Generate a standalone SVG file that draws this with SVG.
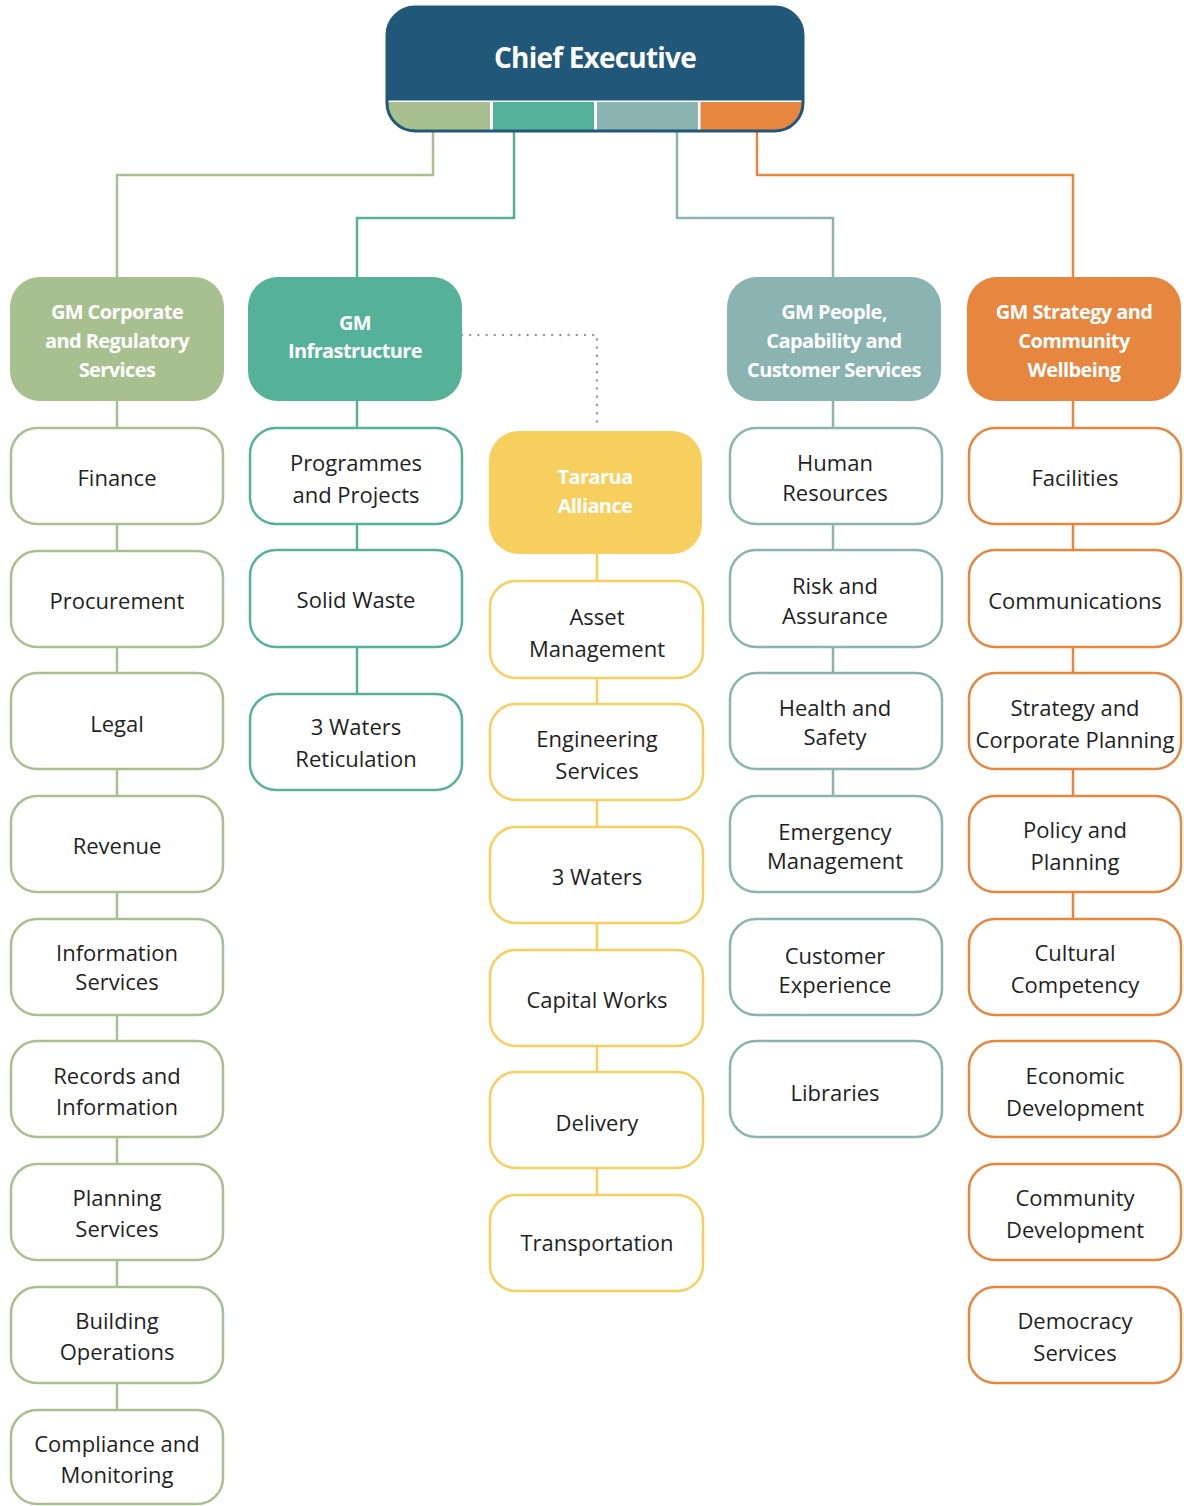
<svg xmlns="http://www.w3.org/2000/svg" width="1184" height="1506" viewBox="0 0 1184 1506">
<defs>
<clipPath id="ceClip"><rect x="387" y="7" width="416" height="124" rx="28"/></clipPath>
<style>
.lbl{font-family:"Open Sans","Liberation Sans",sans-serif;font-size:22px;fill:#1f1f1f;text-anchor:middle;dominant-baseline:central}
.hdr{font-family:"Open Sans","Liberation Sans",sans-serif;font-size:20px;font-weight:bold;fill:#ffffff;text-anchor:middle;dominant-baseline:central;letter-spacing:-0.6px}
.ce{font-family:"Open Sans","Liberation Sans",sans-serif;font-size:28px;font-weight:bold;fill:#ffffff;text-anchor:middle;dominant-baseline:central;letter-spacing:-0.8px}
.box{fill:#ffffff;stroke-width:2.5}
.g{stroke:#a8c090}.t{stroke:#55b298}.y{stroke:#f7cf5e}.s{stroke:#8ab3b1}.o{stroke:#e6863f}
.ln{fill:none;stroke-width:2.5}
</style>
</defs>
<rect width="1184" height="1506" fill="#ffffff"/>
<g id="connectors">
<path class="ln g" d="M433 131 V175 H117 V1410"/>
<path class="ln t" d="M514 131 V218 H357 V694"/>
<path class="ln s" d="M677 131 V218 H833 V796"/>
<path class="ln o" d="M757 131 V175 H1073 V919"/>
<path class="ln y" d="M597 554 V1195"/>
<path d="M462 335 H597 V423" fill="none" stroke="#9a9a9a" stroke-width="2.5" stroke-linecap="round" stroke-dasharray="0 8.2"/>
</g>
<g id="chief-executive">
<g clip-path="url(#ceClip)">
<rect x="387" y="7" width="416" height="124" fill="#ffffff"/>
<rect x="387" y="7" width="416" height="93.5" fill="#21587a"/>
<rect x="387" y="102" width="103" height="30" fill="#a8c090"/>
<rect x="493" y="102" width="101" height="30" fill="#55b298"/>
<rect x="597" y="102" width="101" height="30" fill="#8ab3b1"/>
<rect x="700.5" y="102" width="103" height="30" fill="#e6863f"/>
</g>
<rect x="387" y="7" width="416" height="124" rx="28" fill="none" stroke="#21587a" stroke-width="3"/>
<text class="ce" x="595" y="57">Chief Executive</text>
</g>
<g id="gm-corporate"><rect x="10" y="277" width="214" height="124" rx="30" fill="#a8c090"/><text class="hdr" x="117" y="311">GM Corporate</text><text class="hdr" x="117" y="340">and Regulatory</text><text class="hdr" x="117" y="369">Services</text></g>
<g id="gm-infrastructure"><rect x="248" y="277" width="214" height="124" rx="30" fill="#55b298"/><text class="hdr" x="355" y="322">GM</text><text class="hdr" x="355" y="350">Infrastructure</text></g>
<g id="gm-people"><rect x="727" y="277" width="214" height="124" rx="30" fill="#8ab3b1"/><text class="hdr" x="834" y="311">GM People,</text><text class="hdr" x="834" y="340">Capability and</text><text class="hdr" x="834" y="369">Customer Services</text></g>
<g id="gm-strategy"><rect x="967" y="277" width="214" height="124" rx="30" fill="#e6863f"/><text class="hdr" x="1074" y="311">GM Strategy and</text><text class="hdr" x="1074" y="340">Community</text><text class="hdr" x="1074" y="369">Wellbeing</text></g>
<g id="tararua-alliance"><rect x="489" y="431" width="213" height="123" rx="30" fill="#f7cf5e"/><text class="hdr" x="595" y="476">Tararua</text><text class="hdr" x="595" y="505">Alliance</text></g>

<g id="finance"><rect class="box g" x="11" y="428" width="212" height="96" rx="26"/><text class="lbl" x="117" y="477">Finance</text></g>
<g id="procurement"><rect class="box g" x="11" y="551" width="212" height="96" rx="26"/><text class="lbl" x="117" y="600">Procurement</text></g>
<g id="legal"><rect class="box g" x="11" y="673" width="212" height="96" rx="26"/><text class="lbl" x="117" y="723">Legal</text></g>
<g id="revenue"><rect class="box g" x="11" y="796" width="212" height="96" rx="26"/><text class="lbl" x="117" y="845">Revenue</text></g>
<g id="information-services"><rect class="box g" x="11" y="919" width="212" height="96" rx="26"/><text class="lbl" x="117" y="952">Information</text><text class="lbl" x="117" y="981">Services</text></g>
<g id="records"><rect class="box g" x="11" y="1041" width="212" height="96" rx="26"/><text class="lbl" x="117" y="1075">Records and</text><text class="lbl" x="117" y="1106">Information</text></g>
<g id="planning-services"><rect class="box g" x="11" y="1164" width="212" height="96" rx="26"/><text class="lbl" x="117" y="1197">Planning</text><text class="lbl" x="117" y="1228">Services</text></g>
<g id="building-operations"><rect class="box g" x="11" y="1287" width="212" height="96" rx="26"/><text class="lbl" x="117" y="1320">Building</text><text class="lbl" x="117" y="1351">Operations</text></g>
<g id="compliance"><rect class="box g" x="11" y="1410" width="212" height="94" rx="26"/><text class="lbl" x="117" y="1443">Compliance and</text><text class="lbl" x="117" y="1474">Monitoring</text></g>

<g id="programmes"><rect class="box t" x="250" y="428" width="212" height="96" rx="26"/><text class="lbl" x="356" y="462">Programmes</text><text class="lbl" x="356" y="494">and Projects</text></g>
<g id="solid-waste"><rect class="box t" x="250" y="550" width="212" height="97" rx="26"/><text class="lbl" x="356" y="599">Solid Waste</text></g>
<g id="three-waters-reticulation"><rect class="box t" x="250" y="694" width="212" height="96" rx="26"/><text class="lbl" x="356" y="726">3 Waters</text><text class="lbl" x="356" y="758">Reticulation</text></g>

<g id="asset-management"><rect class="box y" x="490" y="581" width="213" height="97" rx="26"/><text class="lbl" x="597" y="616">Asset</text><text class="lbl" x="597" y="648">Management</text></g>
<g id="engineering-services"><rect class="box y" x="490" y="704" width="213" height="96" rx="26"/><text class="lbl" x="597" y="738">Engineering</text><text class="lbl" x="597" y="770">Services</text></g>
<g id="three-waters"><rect class="box y" x="490" y="827" width="213" height="96" rx="26"/><text class="lbl" x="597" y="876">3 Waters</text></g>
<g id="capital-works"><rect class="box y" x="490" y="950" width="213" height="96" rx="26"/><text class="lbl" x="597" y="999">Capital Works</text></g>
<g id="delivery"><rect class="box y" x="490" y="1072" width="213" height="96" rx="26"/><text class="lbl" x="597" y="1122">Delivery</text></g>
<g id="transportation"><rect class="box y" x="490" y="1195" width="213" height="96" rx="26"/><text class="lbl" x="597" y="1242">Transportation</text></g>

<g id="human-resources"><rect class="box s" x="730" y="428" width="212" height="96" rx="26"/><text class="lbl" x="835" y="462">Human</text><text class="lbl" x="835" y="492">Resources</text></g>
<g id="risk-assurance"><rect class="box s" x="730" y="550" width="212" height="97" rx="26"/><text class="lbl" x="835" y="585">Risk and</text><text class="lbl" x="835" y="615">Assurance</text></g>
<g id="health-safety"><rect class="box s" x="730" y="673" width="212" height="96" rx="26"/><text class="lbl" x="835" y="707">Health and</text><text class="lbl" x="835" y="736">Safety</text></g>
<g id="emergency-management"><rect class="box s" x="730" y="796" width="212" height="96" rx="26"/><text class="lbl" x="835" y="831">Emergency</text><text class="lbl" x="835" y="860">Management</text></g>
<g id="customer-experience"><rect class="box s" x="730" y="919" width="212" height="96" rx="26"/><text class="lbl" x="835" y="955">Customer</text><text class="lbl" x="835" y="984">Experience</text></g>
<g id="libraries"><rect class="box s" x="730" y="1041" width="212" height="96" rx="26"/><text class="lbl" x="835" y="1092">Libraries</text></g>

<g id="facilities"><rect class="box o" x="969" y="428" width="212" height="96" rx="26"/><text class="lbl" x="1075" y="477">Facilities</text></g>
<g id="communications"><rect class="box o" x="969" y="550" width="212" height="97" rx="26"/><text class="lbl" x="1075" y="600">Communications</text></g>
<g id="strategy-planning"><rect class="box o" x="969" y="673" width="212" height="96" rx="26"/><text class="lbl" x="1075" y="707">Strategy and</text><text class="lbl" x="1075" y="739">Corporate Planning</text></g>
<g id="policy-planning"><rect class="box o" x="969" y="796" width="212" height="96" rx="26"/><text class="lbl" x="1075" y="829">Policy and</text><text class="lbl" x="1075" y="861">Planning</text></g>
<g id="cultural-competency"><rect class="box o" x="969" y="919" width="212" height="96" rx="26"/><text class="lbl" x="1075" y="952">Cultural</text><text class="lbl" x="1075" y="984">Competency</text></g>
<g id="economic-development"><rect class="box o" x="969" y="1041" width="212" height="96" rx="26"/><text class="lbl" x="1075" y="1075">Economic</text><text class="lbl" x="1075" y="1107">Development</text></g>
<g id="community-development"><rect class="box o" x="969" y="1164" width="212" height="96" rx="26"/><text class="lbl" x="1075" y="1197">Community</text><text class="lbl" x="1075" y="1229">Development</text></g>
<g id="democracy-services"><rect class="box o" x="969" y="1287" width="212" height="96" rx="26"/><text class="lbl" x="1075" y="1320">Democracy</text><text class="lbl" x="1075" y="1352">Services</text></g>
</svg>
